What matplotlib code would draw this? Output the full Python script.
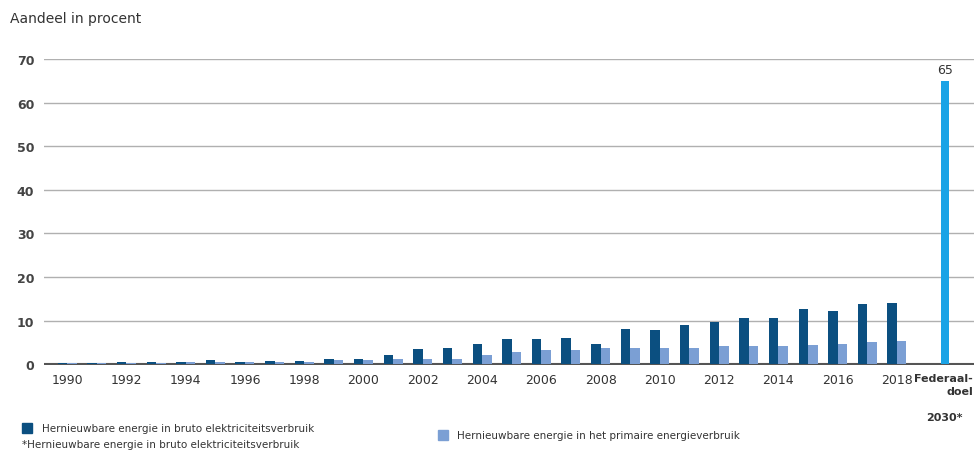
import numpy as np
import matplotlib.pyplot as plt
from matplotlib.patches import Rectangle

# aandeel hernieuwbare energie (%)
years = list(range(1990, 2019))
bruto_elek = [0.3, 0.3, 0.6, 0.6, 0.6, 0.9, 0.6, 0.8, 0.8, 1.1,
              1.1, 2.0, 3.4, 3.7, 4.7, 5.8, 5.8, 6.0, 4.7, 8.0,
              7.8, 8.9, 9.7, 10.5, 10.5, 12.7, 12.2, 13.8, 14.1]
primair = [0.2, 0.2, 0.3, 0.3, 0.6, 0.6, 0.6, 0.6, 0.6, 0.85,
           0.85, 1.1, 1.1, 1.1, 2.0, 2.75, 3.3, 3.3, 3.6, 3.6,
           3.6, 3.8, 4.1, 4.1, 4.1, 4.4, 4.7, 5.0, 5.3]
doel_2030 = 65
yticks = [0, 10, 20, 30, 40, 50, 60, 70]

c_dark = '#0b4f80'
c_light = '#7b9fd4'
c_doel = '#1aa3e6'
c_text = '#333333'

W, H = 974, 452
fig = plt.figure(figsize=(W / 100, H / 100), dpi=100)
ax = fig.add_axes([44 / W, 1 - 366 / H, (W - 44) / W, (366 - 60) / H])

x = np.arange(len(years))
bw = 0.32
ax.bar(x - bw / 2, bruto_elek, width=bw, color=c_dark, zorder=3)
ax.bar(x + bw / 2, primair, width=bw, color=c_light, zorder=3)

# federaal doel 2030
x_doel = len(years) - 1 + 1.62
ax.bar([x_doel], [doel_2030], width=0.28, color=c_doel, zorder=3)
ax.text(x_doel, doel_2030 + 1.2, str(doel_2030), ha='center', va='bottom',
        fontsize=9, color=c_text)

ax.set_xlim(-0.78, 30.6)
ax.set_ylim(-0.2, 70)
ax.set_yticks(yticks)
ax.set_yticklabels([str(t) for t in yticks], fontsize=9, fontweight='bold',
                   color='#444444')
ax.tick_params(axis='y', length=0, pad=7)
ax.grid(axis='y', color='#b0b0b0', linewidth=1, zorder=0)
ax.axhline(0, color='#555555', linewidth=1.5, zorder=2)
for s in ax.spines.values():
    s.set_visible(False)

# jaartallen om de twee jaar
ax.set_xticks(x[::2])
ax.set_xticklabels([str(y) for y in years[::2]], fontsize=9, color=c_text)
ax.tick_params(axis='x', length=0, pad=6)

ax.text(x_doel + 0.95, -2.0, 'Federaal-\ndoel', ha='right', va='top',
        fontsize=8, fontweight='bold', color=c_text, linespacing=1.35)
ax.text(x_doel + 0.6, -11.0, '2030*', ha='right', va='top',
        fontsize=8, fontweight='bold', color=c_text)

fig.text(10 / W, 1 - 19 / H, 'Aandeel in procent', fontsize=10,
         color=c_text, va='center')

# legenda
fig.patches.append(Rectangle((22 / W, 1 - 434 / H), 10 / W, 10 / H,
                             transform=fig.transFigure, color=c_dark))
fig.text(42 / W, 1 - 429 / H,
         'Hernieuwbare energie in bruto elektriciteitsverbruik',
         fontsize=7.5, color=c_text, va='center')
fig.patches.append(Rectangle((438 / W, 1 - 441 / H), 10 / W, 10 / H,
                             transform=fig.transFigure, color=c_light))
fig.text(457 / W, 1 - 436 / H,
         'Hernieuwbare energie in het primaire energieverbruik',
         fontsize=7.5, color=c_text, va='center')
fig.text(22 / W, 1 - 445 / H,
         '*Hernieuwbare energie in bruto elektriciteitsverbruik',
         fontsize=7.5, color=c_text, va='center')

fig.savefig('out.png', dpi=100)
